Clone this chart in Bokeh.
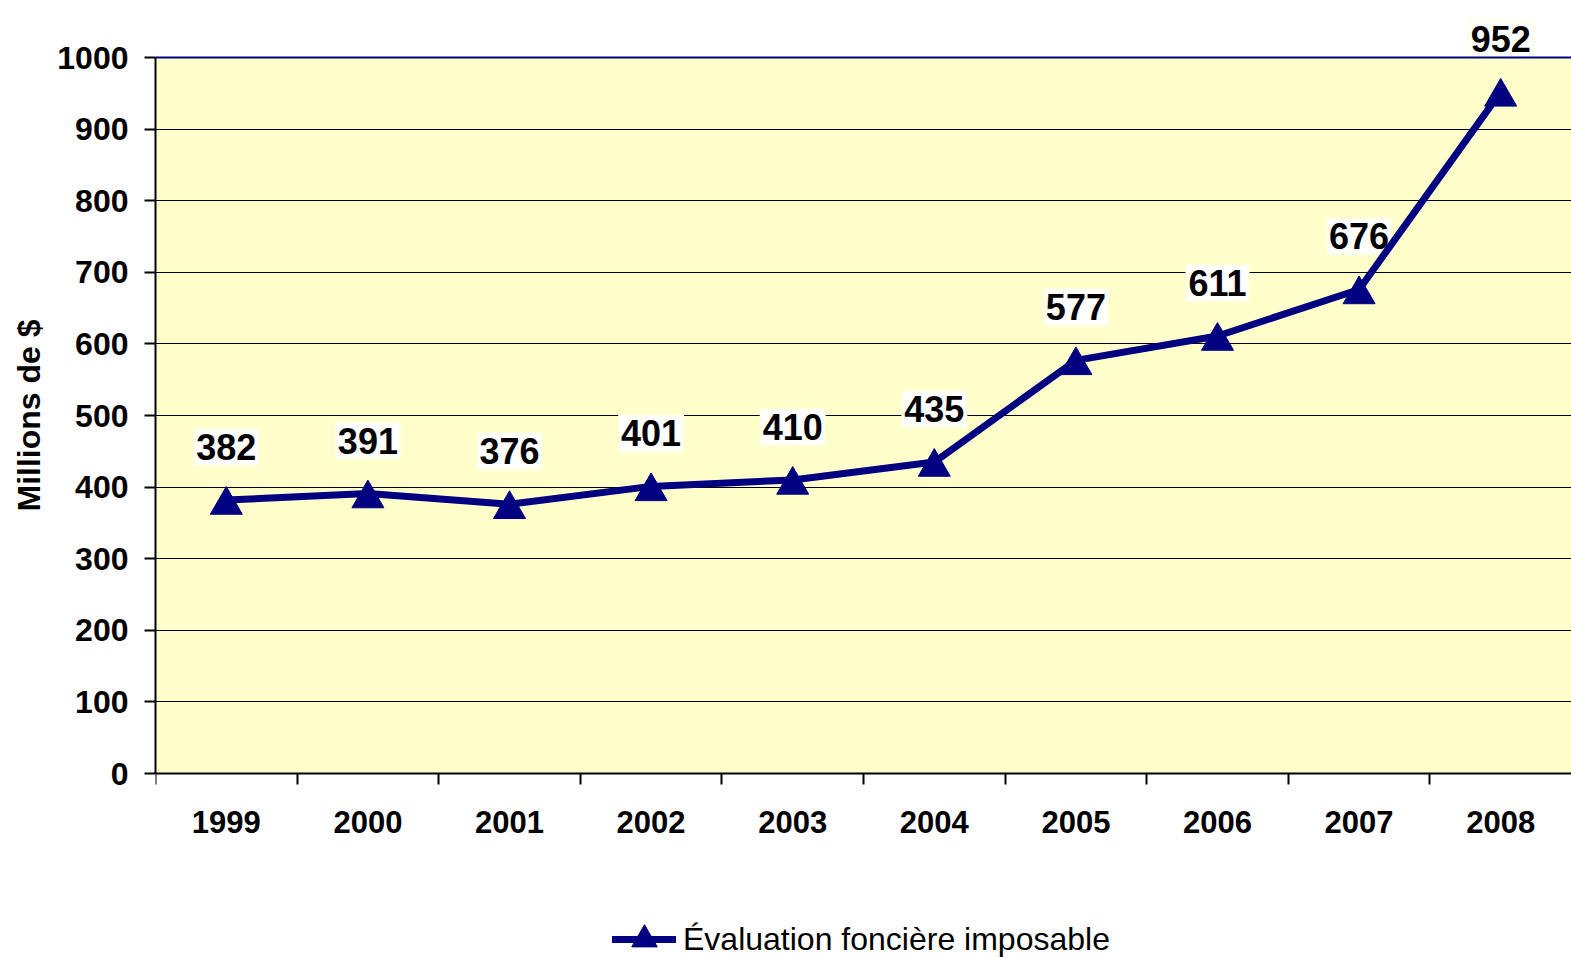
from bokeh.plotting import figure
from bokeh.models import (ColumnDataSource, FixedTicker, Range1d, Legend, LegendItem,
                          Span, BoxAnnotation, Title)
from bokeh.core.properties import value
from bokeh.transform import dodge
from bokeh.embed import file_html
from bokeh.resources import INLINE

years = ["1999", "2000", "2001", "2002", "2003", "2004", "2005", "2006", "2007", "2008"]
valeurs = [382, 391, 376, 401, 410, 435, 577, 611, 676, 952]
y_ticks = [0, 100, 200, 300, 400, 500, 600, 700, 800, 900, 1000]
serie = "Évaluation foncière imposable"
y_titre = "Millions de $"

NAVY = "#000080"
PLOT_BG = "#FFFFCC"
FONT = "Liberation Sans"

# layout (pixels): the frame covers the whole canvas right of the y axis, so that
# labels above the top gridline, the year labels and the legend are not clipped.
W, H = 1571, 957
LEFT = 155
Y_TOP_PX, Y_ZERO_PX = 57, 773          # screen rows of 1000 and 0
k = (Y_ZERO_PX - Y_TOP_PX) / (y_ticks[-1] - y_ticks[0])
y_start = y_ticks[0] - (H - Y_ZERO_PX) / k
y_end = y_ticks[-1] + Y_TOP_PX / k

xs = [i + 0.5 for i in range(len(years))]
src = ColumnDataSource(dict(x=xs, y=valeurs, lab=[str(v) for v in valeurs]))
ysrc = ColumnDataSource(dict(x=xs, y=[0] * len(years), lab=years))

p = figure(width=W, height=H, output_backend="svg", toolbar_location=None,
           x_range=Range1d(0, len(years)), y_range=Range1d(y_start, y_end),
           min_border_left=LEFT, min_border_right=0, min_border_top=0, min_border_bottom=0)
p.background_fill_color = "white"
p.border_fill_color = "white"
p.outline_line_color = None

# plot area fill between 0 and 1000
p.add_layout(BoxAnnotation(bottom=y_ticks[0], top=y_ticks[-1], fill_color=PLOT_BG,
                           fill_alpha=1, line_color=None, level="image"))

# grid
p.xgrid.visible = False
p.ygrid.ticker = FixedTicker(ticks=y_ticks)
p.ygrid.grid_line_color = "black"
p.ygrid.grid_line_width = 1
p.add_layout(Span(location=y_ticks[-1], dimension="width", line_color=NAVY, line_width=2))

# y axis
p.yaxis.ticker = FixedTicker(ticks=y_ticks)
p.yaxis.bounds = (y_ticks[0], y_ticks[-1])
p.yaxis.axis_line_color = "black"
p.yaxis.axis_line_width = 2
p.yaxis.major_tick_line_width = 2
p.yaxis.major_tick_out = 11
p.yaxis.major_tick_in = 0
p.yaxis.minor_tick_line_color = None
p.yaxis.major_label_standoff = 16
p.yaxis.major_label_text_font = FONT
p.yaxis.major_label_text_font_style = "bold"
p.yaxis.major_label_text_font_size = "32px"
p.yaxis.major_label_text_color = "black"

# y title, placed along the 0-1000 span of the axis
p.add_layout(Title(text=y_titre, align="left", offset=H - 511, vertical_align="top",
                   standoff=12, text_font=FONT, text_font_style="bold",
                   text_font_size="32px", text_color="black"), "left")

# x axis at value 0, ticks at category boundaries
p.xaxis.fixed_location = 0
p.xaxis.ticker = FixedTicker(ticks=[], minor_ticks=list(range(len(years))))
p.xaxis.axis_line_color = "black"
p.xaxis.axis_line_width = 2
p.xaxis.major_tick_line_color = None
p.xaxis.major_tick_out = 0
p.xaxis.major_tick_in = 0
p.xaxis.major_label_standoff = 0
p.xaxis.minor_tick_line_color = "black"
p.xaxis.minor_tick_line_width = 2
p.xaxis.minor_tick_out = 11
p.xaxis.minor_tick_in = 0

# category labels under the axis
p.text(x="x", y="y", text="lab", source=ysrc, y_offset=48,
       text_align="center", text_baseline="middle",
       text_font=value(FONT), text_font_style="bold", text_font_size="31px",
       text_color="black")

# data labels (drawn under the line)
p.text(x="x", y="y", text="lab", source=src, y_offset=-53,
       text_align="center", text_baseline="middle",
       text_font=value(FONT), text_font_style="bold", text_font_size="36px",
       text_color="black", background_fill_color="white",
       border_line_color="#FFFFE6", border_line_width=2, padding=dict(x=2, y=5))

ln = p.line(x="x", y="y", source=src, line_color=NAVY, line_width=7,
            line_join="round", line_cap="round")
# triangles centred on their bounding box, like the original markers
sc = p.scatter(x="x", y=dodge("y", -5 / k, range=p.y_range), source=src,
               marker="triangle", size=32, fill_color=NAVY, line_color=NAVY)

legend = Legend(items=[LegendItem(label=serie, renderers=[ln, sc])],
                location=(457, -17), orientation="horizontal",
                label_text_font=FONT, label_text_font_size="32px",
                label_text_color="black", glyph_width=64, glyph_height=70,
                label_standoff=7, padding=0, margin=0, spacing=0,
                border_line_color=None, background_fill_alpha=0)
p.add_layout(legend, "center")

open("out.html", "w").write(file_html(p, INLINE))
